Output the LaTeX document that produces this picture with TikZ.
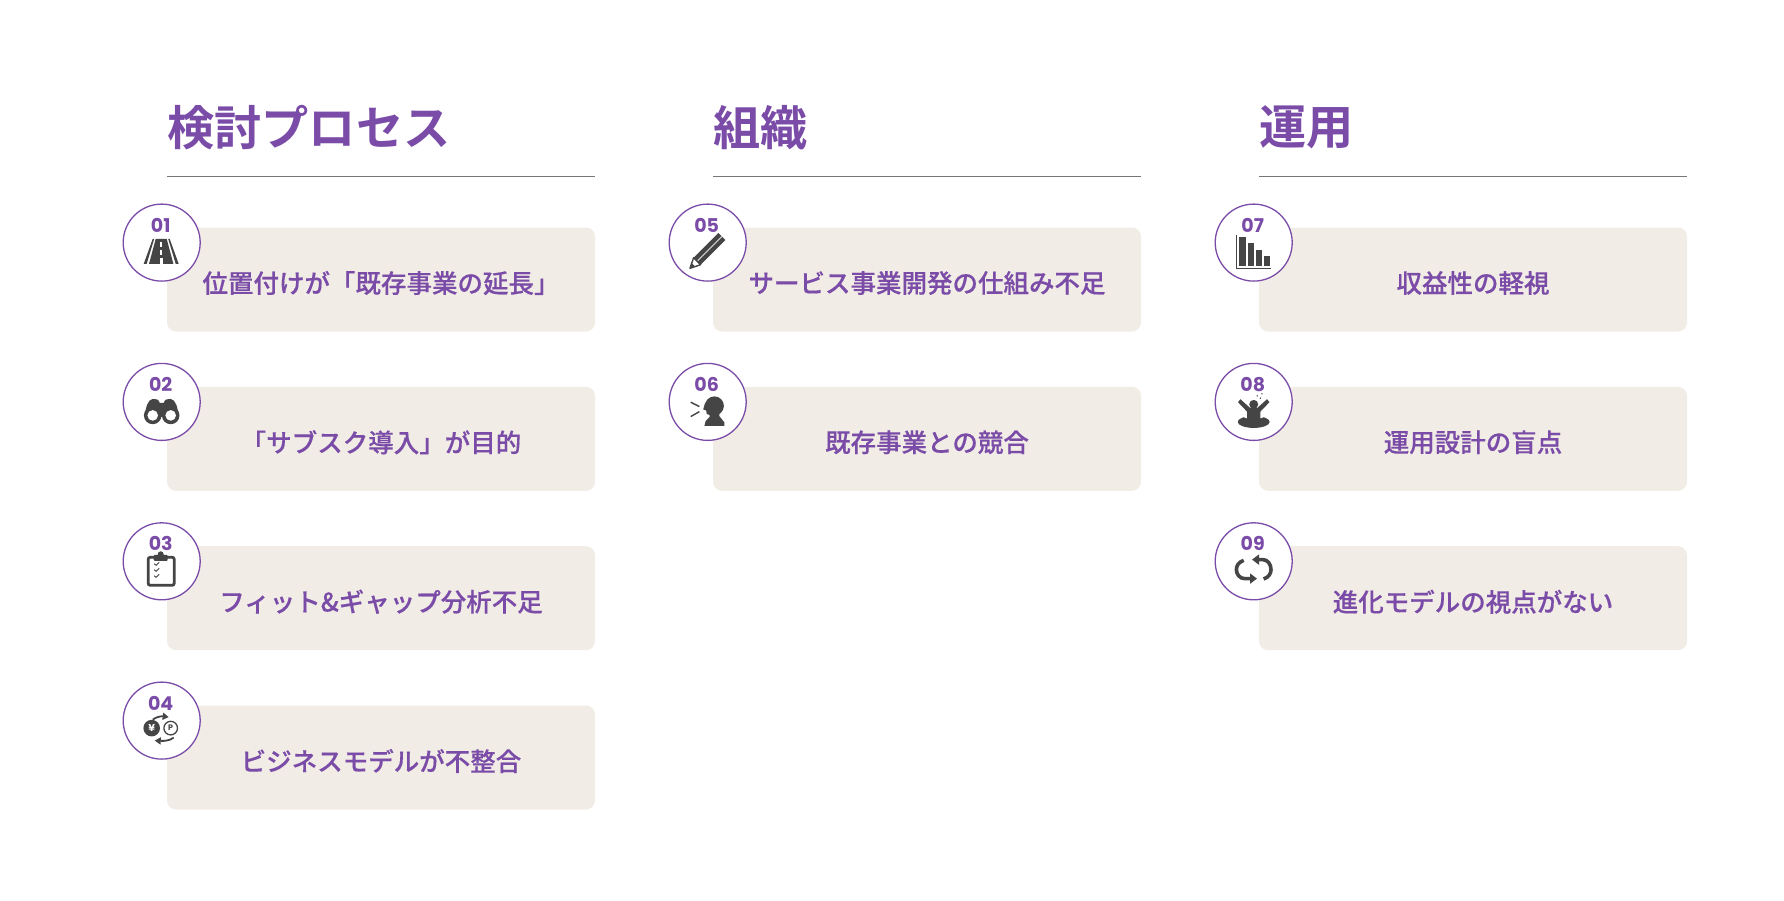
\documentclass[tikz,border=0pt]{standalone}
\usepackage{fontspec}
\usetikzlibrary{arrows.meta}
\newfontfamily\jpbold{Noto Sans CJK JP Bold}
\newfontfamily\jpmedium{Noto Sans CJK JP Medium}[FakeBold=0.35]
\newfontfamily\numfont{Poppins}[Scale=1.0]
\definecolor{kpurple}{HTML}{7A4CA8}
\definecolor{kbeige}{HTML}{F1EDE6}
\definecolor{kicon}{HTML}{454545}
\definecolor{krule}{HTML}{777777}
\tikzset{
	headtext/.style={anchor=west, inner sep=0pt, text=kpurple, font=\jpbold\fontsize{47.2}{50}\selectfont},
	headrule/.style={draw=krule, line width=1pt},
	itembox/.style={rectangle, rounded corners=9pt, fill=kbeige, draw=none, minimum width=428pt, minimum height=104pt, inner sep=0pt},
	itemtext/.style={inner sep=0pt, text=kpurple, font=\jpmedium\fontsize{25.5}{30}\selectfont},
	numring/.style={circle, draw=kpurple, fill=white, line width=1.3pt, minimum size=77pt, inner sep=0pt},
	numtext/.style={inner sep=0pt, text=kpurple, font=\numfont\bfseries\fontsize{19}{21}\selectfont},
	iconfill/.style={fill=kicon, draw=none},
	iconline/.style={draw=kicon, line width=1.8pt},
	% Piktogrammer, origo i midten av ringen
	pics/roadicon/.style={code={
		\fill[iconfill] (-18,21.3) -- (-15,21.3) -- (-7.5,-3.7) -- (-9,-3.7) -- cycle;
		\fill[iconfill] (17,21.3) -- (14,21.3) -- (6.5,-3.7) -- (8,-3.7) -- cycle;
		\fill[iconfill] (-12.7,21.3) -- (11.7,21.3) -- (5,-3.7) -- (-6,-3.7) -- cycle;
		\fill[white] (-1.5,-1) rectangle (0.5,4);
		\fill[white] (-1.7,7) rectangle (0.7,12.5);
		\fill[white] (-2,15.5) rectangle (1,21.3);
	}},
	pics/glassicon/.style={code={
		\fill[iconfill] (-17,15) .. controls (-16,5) and (-14,-2) .. (-9,-3) .. controls (-6,-3) and (-3,-3) .. (-2,1) -- (2,1) .. controls (3,-3) and (6,-3) .. (9,-3) .. controls (14,-2) and (16,5) .. (17,15) -- cycle;
		\fill[iconfill] (-9,13.5) circle (8.8);
		\fill[iconfill] (9,13.5) circle (8.8);
		\fill[white] (-9,13.5) circle (5.3);
		\fill[white] (9,13.5) circle (5.3);
	}},
	pics/clipicon/.style={code={
		\draw[iconline, line width=2.8pt, rounded corners=2pt] (-13.5,-4) rectangle (12.5,24);
		\fill[iconfill, rounded corners=1pt] (-8,-6.5) rectangle (6,-0.5);
		\fill[iconfill] (-1,-7) circle (3);
		\foreach \yy in {2.5,8.5,14.5}
		\draw[draw=kicon, line width=0.9pt] (-7.5,\yy) -- (-5.5,\yy+1.5) -- (-2.5,\yy-1.5);
	}},
	pics/swapicon/.style={code={
		\fill[iconfill] (-10,7.5) circle (8.3);
		\node[inner sep=0pt, text=white, font=\numfont\bfseries\fontsize{10}{11}\selectfont] (yenmark) at (-10,7.5) {¥};
		\draw[iconline, line width=1.3pt] (9,7.5) circle (6.8);
		\node[inner sep=0pt, text=kicon, font=\numfont\bfseries\fontsize{8}{9}\selectfont] (pointmark) at (9,7.5) {P};
		\draw[iconline, -{Triangle[length=6pt,width=7pt]}] (-9,-1) .. controls (-5,-4) and (0,-4.5) .. (7,-3.5);
		\draw[iconline, -{Triangle[length=6pt,width=7pt]}] (12,17) .. controls (8,20) and (3,20.5) .. (-7,20);
	}},
	pics/pencilicon/.style={code={
		\fill[iconfill] (-14.1,15.1) -- (10.6,-9.6) -- (17.6,-2.6) -- (-7.1,22.1) -- cycle;
		\draw[white!75!kicon, line width=1pt] (-10.6,18.6) -- (14.1,-6.1);
		\draw[iconline, fill=white, line width=1.4pt, line join=round] (-17.7,25.7) -- (-14.1,15.1) -- (-7.1,22.1) -- cycle;
		\fill[iconfill] (-17.7,25.7) -- (-16,20.6) -- (-12.6,24) -- cycle;
	}},
	pics/speakicon/.style={code={
		\fill[iconfill] (6.7,4) circle (9.5);
		\fill[iconfill] (-2.6,1) -- (-4.5,7.5) -- (-1.5,8.5) -- (-1,12) -- (3,13.5) -- (12,8) -- cycle;
		\fill[iconfill] (-3.3,24) -- (16.7,24) -- (16.7,20.5) -- (11.5,14) -- (12,10) -- (2,12) -- (2,15) -- (-2,19) -- cycle;
		\draw[iconline, line width=1.4pt] (-17,0.3) -- (-8.3,4.7);
		\draw[iconline, line width=1.4pt] (-17,14.7) -- (-8.3,9.7);
	}},
	pics/barsicon/.style={code={
		\draw[draw=kicon, line width=0.9pt] (-17.7,-8) -- (-17.7,25.7) -- (17.7,25.7);
		\fill[iconfill] (-14.3,-6) rectangle (-8,23.3);
		\fill[iconfill] (-6,0.7) rectangle (0.3,23.3);
		\fill[iconfill] (2.4,7.3) rectangle (8.6,23.3);
		\fill[iconfill] (10.7,13) rectangle (16.6,23.3);
	}},
	pics/sinkicon/.style={code={
		\fill[iconfill] (0,20) ellipse (16 and 6);
		\fill[white] (0,14) ellipse (11 and 3);
		\fill[iconfill] (-15.7,0.3) -- (-13.3,-2.7) -- (-3.3,6.3) -- (3.3,6.3) -- (13.3,-2.7) -- (15.7,0.3) -- (6.7,9.7) -- (6.7,20) -- (-6.7,20) -- (-6.7,9.7) -- cycle;
		\fill[iconfill] (0,2.5) circle (4.5);
		\fill[iconfill] (3.5,-6) circle (0.8);
		\fill[iconfill] (8.3,-8) circle (0.8);
		\fill[iconfill] (6.7,-3.7) circle (0.8);
	}},
	pics/cycleicon/.style={code={
		\draw[draw=kicon, line width=3.6pt, -{Triangle[length=7pt,width=10pt]}] (10,17.7) .. controls (15,16) and (17.3,12) .. (17.3,8.3) .. controls (17.3,3) and (14,-1.7) .. (9,-1.7) -- (-1.7,-1.7);
		\draw[draw=kicon, line width=3.6pt, -{Triangle[length=7pt,width=10pt]}] (-10,-1) .. controls (-15,1) and (-17.3,4) .. (-17.3,8.3) .. controls (-17.3,13) and (-14,17.3) .. (-9,17.3) -- (3.3,17.3);
	}},
}
\begin{document}
\begin{tikzpicture}[x=1pt, y=-1pt]
	\useasboundingbox (0,0) rectangle (1784,900);

	% Overskrifter og streker
	\foreach \id/\xl/\head in {a/167/検討プロセス, b/713/組織, c/1259/運用} {
		\node[headtext] (head\id) at (\xl,127.5) {\head};
		\coordinate (rulestart\id) at (\xl,176);
		\coordinate (ruleend\id) at (\xl+428,176);
		\draw[headrule] (rulestart\id) -- (ruleend\id);
	}

	% Bokser, ringer, numre og piktogrammer
	\foreach \id/\xc/\yc/\item/\icon in {
		01/381/279.5/位置付けが「既存事業の延長」/roadicon,
		02/381/438.8/「サブスク導入」が目的/glassicon,
		03/381/598.2/フィット\&ギャップ分析不足/clipicon,
		04/381/757.5/ビジネスモデルが不整合/swapicon,
		05/927/279.5/サービス事業開発の仕組み不足/pencilicon,
		06/927/438.8/既存事業との競合/speakicon,
		07/1473/279.5/収益性の軽視/barsicon,
		08/1473/438.8/運用設計の盲点/sinkicon,
		09/1473/598.2/進化モデルの視点がない/cycleicon} {
		\node[itembox] (box\id) at (\xc,\yc) {};
		\node[itemtext] (item\id) at (\xc,\yc+3.5) {\item};
		\node[numring] (ring\id) at (\xc-219.3,\yc-36.9) {};
		\node[numtext] (num\id) at (\xc-220.3,\yc-54.5) {\id};
		\pic at (ring\id.center) {\icon};
	}
\end{tikzpicture}
\end{document}
